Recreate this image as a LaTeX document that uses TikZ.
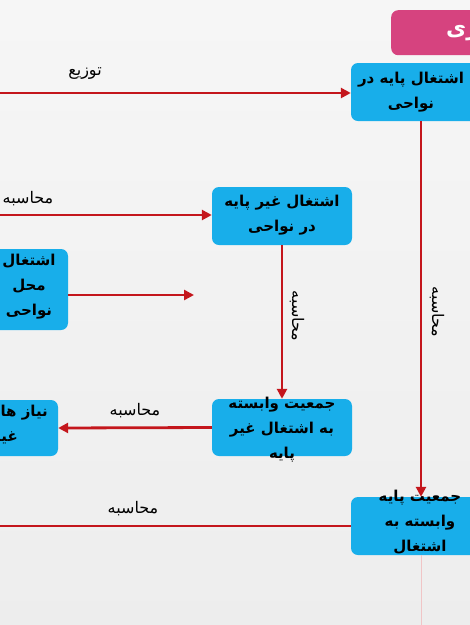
\documentclass[tikz,border=0pt]{standalone}
\usepackage{fontspec}
\usetikzlibrary{arrows.meta}
\TeXXeTstate=1
\newfontfamily\fa[Script=Arabic]{DejaVu Sans}
\definecolor{boxblue}{HTML}{18AEEA}
\definecolor{arrred}{HTML}{C4161C}
\definecolor{pinkbox}{HTML}{D6437F}
\tikzset{
  box/.style={draw=none, fill=boxblue, rounded corners=7pt, inner sep=0pt},
  boxtext/.style={font=\fa\bfseries\fontsize{15}{25}\selectfont, align=center, text=black, inner sep=0pt},
  lbl/.style={font=\fa\fontsize{16}{18}\selectfont, text=black, inner sep=0pt},
  conn/.style={draw=arrred, line width=2.8pt, -{Triangle[length=10pt,width=10pt]}},
}
\begin{document}
\begin{tikzpicture}[x=1pt,y=-1pt]
\useasboundingbox (0,0) rectangle (470,625);
\clip (0,0) rectangle (470,625);
\shade[top color=white!93!gray, bottom color=white!86!gray] (0,0) rectangle (470,625);

% pink title box
\node[box, fill=pinkbox, minimum width=104pt, minimum height=45pt, anchor=north west] (title) at (391,10) {};
\node[font=\fa\bfseries\fontsize{22}{24}\selectfont, text=white, anchor=west, inner sep=0pt] (titletext) at (446,33) {\beginR زی\endR};

% boxes
\node[box, minimum width=138pt, minimum height=58pt] (A) at (420,92) {};
\node[boxtext] (At) at (411,92) {\beginR اشتغال پایه در\endR\\\beginR نواحی\endR};

\node[box, minimum width=140pt, minimum height=58pt] (B) at (282,216) {};
\node[boxtext] (Bt) at (282,215) {\beginR اشتغال غیر پایه\endR\\\beginR در نواحی\endR};

\node[box, minimum width=90pt, minimum height=81pt] (C) at (23,289.5) {};
\node[boxtext] (Ct) at (29,287) {\beginR اشتغال\endR\\\beginR محل\endR\\\beginR نواحی\endR};

\node[box, minimum width=140pt, minimum height=57pt] (D) at (282,427.5) {};
\node[boxtext] (Dt) at (282,430) {\beginR جمعیت وابسته\endR\\\beginR به اشتغال غیر\endR\\\beginR پایه\endR};

\node[box, minimum width=80pt, minimum height=56pt] (E) at (18,428) {};
\node[boxtext, align=right, anchor=east] (Et) at (48,425) {\beginR نیاز های\endR\\\beginR غیر\endR\hspace*{30pt}};

\node[box, minimum width=138pt, minimum height=58pt] (F) at (420,526) {};
\node[boxtext] (Ft) at (420,522) {\beginR جمعیت پایه\endR\\\beginR وابسته به\endR\\\beginR اشتغال\endR};

% free ends
\coordinate (s1) at (-5,93);
\coordinate (s2) at (-5,215);
\coordinate (e3) at (194,295);
\coordinate (e6) at (-14,526);
\coordinate (e7) at (421,630);

% connectors
\draw[conn] (s1) -- (A.west |- s1);
\draw[conn] (s2) -- (B.west |- s2);
\draw[conn] ([yshift=-5.5pt]C.east) -- (e3);
\draw[conn] (B.south) -- (D.north);
\draw[conn] (D.west) -- (E.east);
\draw[conn] ([xshift=1pt]A.south) -- ([xshift=1pt]F.north);
\draw[conn] (F.west) -- (e6);
\draw[draw=arrred!25, line width=1pt] ([xshift=1pt]F.south) -- (e7);

% labels
\node[lbl] (l1) at (85,74) {\beginR توزیع\endR};
\node[lbl] (l2) at (28,199) {\beginR محاسبه\endR};
\node[lbl, rotate=-90] (l4) at (297,316) {\beginR محاسبه\endR};
\node[lbl] (l5) at (135,411) {\beginR محاسبه\endR};
\node[lbl, rotate=-90] (l6) at (437,312) {\beginR محاسبه\endR};
\node[lbl] (l7) at (133,509) {\beginR محاسبه\endR};
\end{tikzpicture}
\end{document}
